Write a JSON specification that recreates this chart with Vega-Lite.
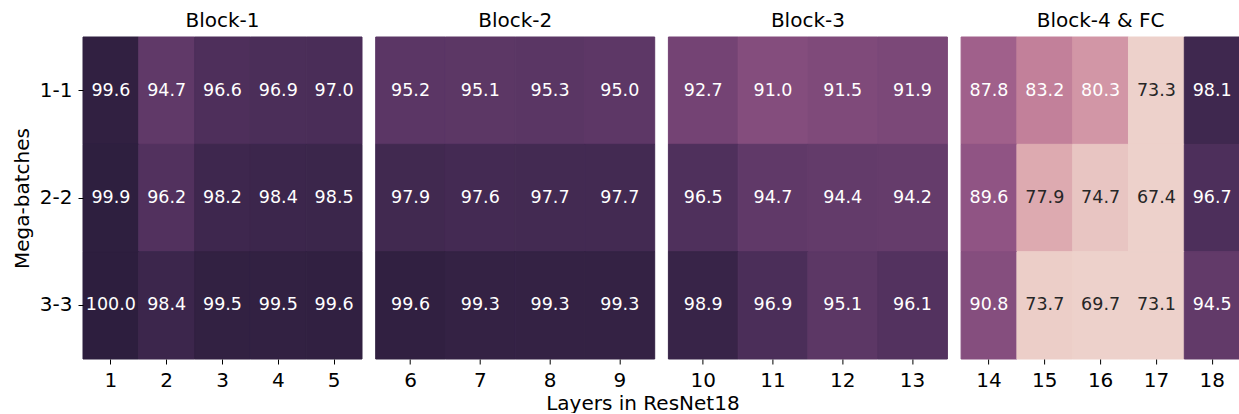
{
  "$schema": "https://vega.github.io/schema/vega-lite/v6.json",
  "padding": {"left": 12, "top": 10, "right": 0, "bottom": 0},
  "background": "white",
  "bounds": "flush",
  "data": {"values": [
    {"b":1,"l":1,"m":"1-1","v":99.6},{"b":1,"l":2,"m":"1-1","v":94.7},{"b":1,"l":3,"m":"1-1","v":96.6},{"b":1,"l":4,"m":"1-1","v":96.9},{"b":1,"l":5,"m":"1-1","v":97.0},
    {"b":2,"l":6,"m":"1-1","v":95.2},{"b":2,"l":7,"m":"1-1","v":95.1},{"b":2,"l":8,"m":"1-1","v":95.3},{"b":2,"l":9,"m":"1-1","v":95.0},
    {"b":3,"l":10,"m":"1-1","v":92.7},{"b":3,"l":11,"m":"1-1","v":91.0},{"b":3,"l":12,"m":"1-1","v":91.5},{"b":3,"l":13,"m":"1-1","v":91.9},
    {"b":4,"l":14,"m":"1-1","v":87.8},{"b":4,"l":15,"m":"1-1","v":83.2},{"b":4,"l":16,"m":"1-1","v":80.3},{"b":4,"l":17,"m":"1-1","v":73.3},{"b":4,"l":18,"m":"1-1","v":98.1},
    {"b":1,"l":1,"m":"2-2","v":99.9},{"b":1,"l":2,"m":"2-2","v":96.2},{"b":1,"l":3,"m":"2-2","v":98.2},{"b":1,"l":4,"m":"2-2","v":98.4},{"b":1,"l":5,"m":"2-2","v":98.5},
    {"b":2,"l":6,"m":"2-2","v":97.9},{"b":2,"l":7,"m":"2-2","v":97.6},{"b":2,"l":8,"m":"2-2","v":97.7},{"b":2,"l":9,"m":"2-2","v":97.7},
    {"b":3,"l":10,"m":"2-2","v":96.5},{"b":3,"l":11,"m":"2-2","v":94.7},{"b":3,"l":12,"m":"2-2","v":94.4},{"b":3,"l":13,"m":"2-2","v":94.2},
    {"b":4,"l":14,"m":"2-2","v":89.6},{"b":4,"l":15,"m":"2-2","v":77.9},{"b":4,"l":16,"m":"2-2","v":74.7},{"b":4,"l":17,"m":"2-2","v":67.4},{"b":4,"l":18,"m":"2-2","v":96.7},
    {"b":1,"l":1,"m":"3-3","v":100.0},{"b":1,"l":2,"m":"3-3","v":98.4},{"b":1,"l":3,"m":"3-3","v":99.5},{"b":1,"l":4,"m":"3-3","v":99.5},{"b":1,"l":5,"m":"3-3","v":99.6},
    {"b":2,"l":6,"m":"3-3","v":99.6},{"b":2,"l":7,"m":"3-3","v":99.3},{"b":2,"l":8,"m":"3-3","v":99.3},{"b":2,"l":9,"m":"3-3","v":99.3},
    {"b":3,"l":10,"m":"3-3","v":98.9},{"b":3,"l":11,"m":"3-3","v":96.9},{"b":3,"l":12,"m":"3-3","v":95.1},{"b":3,"l":13,"m":"3-3","v":96.1},
    {"b":4,"l":14,"m":"3-3","v":90.8},{"b":4,"l":15,"m":"3-3","v":73.7},{"b":4,"l":16,"m":"3-3","v":69.7},{"b":4,"l":17,"m":"3-3","v":73.1},{"b":4,"l":18,"m":"3-3","v":94.5}
  ]},
  "config": {
    "font": "DejaVu Sans",
    "view": {"stroke": null},
    "concat": {"spacing": 13.7},
    "axis": {"labelFont": "DejaVu Sans", "titleFont": "DejaVu Sans", "labelFontSize": 20, "titleFontSize": 20, "titleFontWeight": "normal", "labelColor": "#000000", "titleColor": "#000000", "tickColor": "#000000", "tickSize": 5, "tickWidth": 1, "domain": false, "grid": false, "labelPadding": 6},
    "title": {"fontSize": 20, "fontWeight": "normal", "font": "DejaVu Sans", "color": "#000000", "offset": 6}
  },
  "resolve": {"scale": {"color": "independent", "stroke": "independent"}},
  "hconcat": [
    {
      "title": "Block-1",
      "width": 279, "height": 322,
      "transform": [{"filter": "datum.b == 1"}],
      "encoding": {
        "x": {"field": "l", "type": "ordinal", "axis": {"labelAngle": 0, "title": null}},
        "y": {"field": "m", "type": "ordinal", "axis": {"title": "Mega-batches", "titlePadding": 7}}
      },
      "layer": [
        {"mark": {"type": "rect", "strokeWidth": 1}, "encoding": {
          "color": {"field": "v", "type": "quantitative", "legend": null, "scale": {"type": "linear", "domain": [73.3,76.6375,79.975,83.3125,86.65,89.9875,93.325,96.6625,100], "range": ["#edd1cb","#e2b5b6","#d499a7","#c17f9a","#aa678f","#8d5282","#6e4071","#4d2f5b","#2d1e3e"], "clamp": true, "interpolate": "rgb"}},
          "stroke": {"field": "v", "type": "quantitative", "legend": null, "scale": {"type": "linear", "domain": [73.3,76.6375,79.975,83.3125,86.65,89.9875,93.325,96.6625,100], "range": ["#edd1cb","#e2b5b6","#d499a7","#c17f9a","#aa678f","#8d5282","#6e4071","#4d2f5b","#2d1e3e"], "clamp": true, "interpolate": "rgb"}}}},
        {"mark": {"type": "text", "fontSize": 17.5, "font": "DejaVu Sans"}, "encoding": {"text": {"field": "v", "type": "quantitative", "format": ".1f"}, "color": {"condition": {"test": "datum.v < 79", "value": "#262626"}, "value": "#ffffff"}}}
      ]
    },
    {
      "title": "Block-2",
      "width": 279, "height": 322,
      "transform": [{"filter": "datum.b == 2"}],
      "encoding": {
        "x": {"field": "l", "type": "ordinal", "axis": {"labelAngle": 0, "title": null}},
        "y": {"field": "m", "type": "ordinal", "axis": null}
      },
      "layer": [
        {"mark": {"type": "rect", "strokeWidth": 1}, "encoding": {
          "color": {"field": "v", "type": "quantitative", "legend": null, "scale": {"type": "linear", "domain": [73.3,76.6375,79.975,83.3125,86.65,89.9875,93.325,96.6625,100], "range": ["#edd1cb","#e2b5b6","#d499a7","#c17f9a","#aa678f","#8d5282","#6e4071","#4d2f5b","#2d1e3e"], "clamp": true, "interpolate": "rgb"}},
          "stroke": {"field": "v", "type": "quantitative", "legend": null, "scale": {"type": "linear", "domain": [73.3,76.6375,79.975,83.3125,86.65,89.9875,93.325,96.6625,100], "range": ["#edd1cb","#e2b5b6","#d499a7","#c17f9a","#aa678f","#8d5282","#6e4071","#4d2f5b","#2d1e3e"], "clamp": true, "interpolate": "rgb"}}}},
        {"mark": {"type": "text", "fontSize": 17.5, "font": "DejaVu Sans"}, "encoding": {"text": {"field": "v", "type": "quantitative", "format": ".1f"}, "color": {"condition": {"test": "datum.v < 79", "value": "#262626"}, "value": "#ffffff"}}}
      ]
    },
    {
      "title": "Block-3",
      "width": 279, "height": 322,
      "transform": [{"filter": "datum.b == 3"}],
      "encoding": {
        "x": {"field": "l", "type": "ordinal", "axis": {"labelAngle": 0, "title": "Layers in ResNet18", "titleX": -26, "titleY": 50, "titleBaseline": "alphabetic", "titleAlign": "center"}},
        "y": {"field": "m", "type": "ordinal", "axis": null}
      },
      "layer": [
        {"mark": {"type": "rect", "strokeWidth": 1}, "encoding": {
          "color": {"field": "v", "type": "quantitative", "legend": null, "scale": {"type": "linear", "domain": [73.3,76.6375,79.975,83.3125,86.65,89.9875,93.325,96.6625,100], "range": ["#edd1cb","#e2b5b6","#d499a7","#c17f9a","#aa678f","#8d5282","#6e4071","#4d2f5b","#2d1e3e"], "clamp": true, "interpolate": "rgb"}},
          "stroke": {"field": "v", "type": "quantitative", "legend": null, "scale": {"type": "linear", "domain": [73.3,76.6375,79.975,83.3125,86.65,89.9875,93.325,96.6625,100], "range": ["#edd1cb","#e2b5b6","#d499a7","#c17f9a","#aa678f","#8d5282","#6e4071","#4d2f5b","#2d1e3e"], "clamp": true, "interpolate": "rgb"}}}},
        {"mark": {"type": "text", "fontSize": 17.5, "font": "DejaVu Sans"}, "encoding": {"text": {"field": "v", "type": "quantitative", "format": ".1f"}, "color": {"condition": {"test": "datum.v < 79", "value": "#262626"}, "value": "#ffffff"}}}
      ]
    },
    {
      "title": "Block-4 & FC",
      "width": 279, "height": 322,
      "transform": [{"filter": "datum.b == 4"}],
      "encoding": {
        "x": {"field": "l", "type": "ordinal", "axis": {"labelAngle": 0, "title": null}},
        "y": {"field": "m", "type": "ordinal", "axis": null}
      },
      "layer": [
        {"mark": {"type": "rect", "strokeWidth": 1}, "encoding": {
          "color": {"field": "v", "type": "quantitative", "legend": null, "scale": {"type": "linear", "domain": [73.3,76.6375,79.975,83.3125,86.65,89.9875,93.325,96.6625,100], "range": ["#edd1cb","#e2b5b6","#d499a7","#c17f9a","#aa678f","#8d5282","#6e4071","#4d2f5b","#2d1e3e"], "clamp": true, "interpolate": "rgb"}},
          "stroke": {"field": "v", "type": "quantitative", "legend": null, "scale": {"type": "linear", "domain": [73.3,76.6375,79.975,83.3125,86.65,89.9875,93.325,96.6625,100], "range": ["#edd1cb","#e2b5b6","#d499a7","#c17f9a","#aa678f","#8d5282","#6e4071","#4d2f5b","#2d1e3e"], "clamp": true, "interpolate": "rgb"}}}},
        {"mark": {"type": "text", "fontSize": 17.5, "font": "DejaVu Sans"}, "encoding": {"text": {"field": "v", "type": "quantitative", "format": ".1f"}, "color": {"condition": {"test": "datum.v < 79", "value": "#262626"}, "value": "#ffffff"}}}
      ]
    }
  ]
}
